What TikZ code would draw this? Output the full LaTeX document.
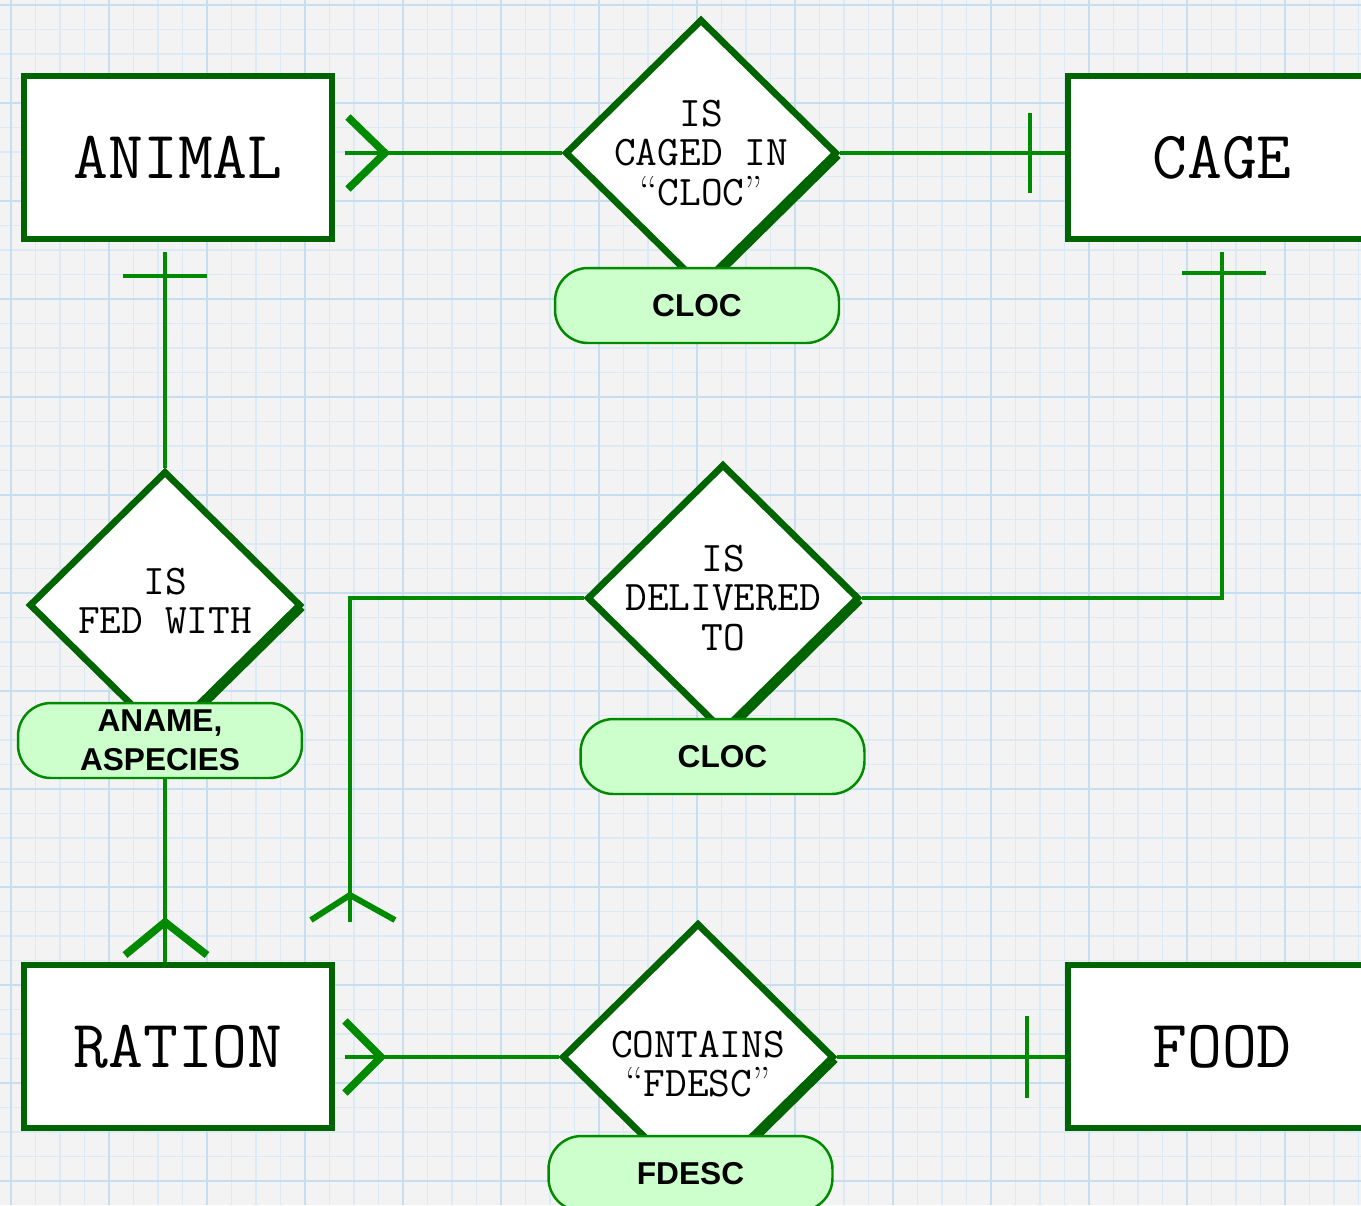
\documentclass[tikz,border=0pt]{standalone}
\usepackage{fontspec}
\setsansfont{Liberation Sans}
\usetikzlibrary{shapes.geometric,calc,shadows}

\definecolor{boxgreen}{HTML}{006400}
\definecolor{linegreen}{HTML}{008A00}
\definecolor{pillfill}{HTML}{CCFFCC}
\definecolor{paper}{HTML}{F3F3F3}
\definecolor{gridblue}{HTML}{DCEAF5}
\definecolor{gridmajor}{HTML}{C6DEF0}

\newcommand{\openq}{{\rmfamily “}}
\newcommand{\closeq}{{\rmfamily ”}}

\begin{document}
\begin{tikzpicture}[x=0.02cm, y=-0.02cm,
    entity/.style={rectangle, draw=boxgreen, line width=3.4pt, fill=white, minimum width=6.16cm, minimum height=3.26cm, font=\fontsize{38.5}{40}\selectfont\ttfamily},
    relation/.style={diamond, draw=boxgreen, line width=3.8pt, fill=white, minimum width=5.44cm, minimum height=5.36cm, inner sep=0pt, drop shadow={shadow xshift=0.1cm, shadow yshift=-0.1cm, fill=boxgreen, opacity=1}},
    reltext/.style={align=center, font=\fontsize{24}{22.7}\selectfont\ttfamily},
    attrib/.style={rectangle, rounded corners=0.66cm, draw=linegreen, line width=1.4pt, fill=pillfill, minimum width=5.68cm, minimum height=1.5cm, align=center, font=\fontsize{18}{22}\selectfont\sffamily\bfseries},
    link/.style={draw=linegreen, line width=2.3pt},
    crowfoot/.style={draw=linegreen, line width=4.3pt},
    onebar/.style={draw=linegreen, line width=2.5pt}
]

% Paper
\useasboundingbox (0,0) rectangle (1361,1205);
\clip (0,0) rectangle (1361,1205);
\fill[paper] (0,0) rectangle (1361,1205);
\foreach \gx in {11,35.5,...,1361} \draw[gridblue, line width=0.8pt] (\gx,0) -- (\gx,1205);
\foreach \gy in {5,29.5,...,1205} \draw[gridblue, line width=0.8pt] (0,\gy) -- (1361,\gy);
\foreach \gx in {11,109,...,1361} \draw[gridmajor, line width=1pt] (\gx,0) -- (\gx,1205);
\foreach \gy in {5,103,...,1205} \draw[gridmajor, line width=1pt] (0,\gy) -- (1361,\gy);

% Entities
\node[entity] (animal) at (178,157.5) {ANIMAL};
\node[entity] (cage) at (1222,157.5) {CAGE};
\node[entity] (ration) at (178,1046.5) {RATION};
\node[entity] (food) at (1222,1046.5) {FOOD};

% Relationships
\node[relation] (cagedin) at (701,153) {};
\node[reltext] at (cagedin) {IS\\CAGED IN\\\openq CLOC\closeq};

\node[relation] (fedwith) at (165,605) {};
\node[reltext] at ($(fedwith)+(0,-4)$) {IS\\FED WITH};

\node[relation] (delivered) at (723,598) {};
\node[reltext] at (delivered) {IS\\DELIVERED\\TO};

\node[relation] (contains) at (698,1057) {};
\node[reltext] at ($(contains)+(0,7)$) {CONTAINS\\\openq FDESC\closeq};

% Attributes
\node[attrib] (cagedinattr) at (697,305.5) {CLOC};
\node[attrib] (fedwithattr) at (160,740.5) {ANAME,\\ASPECIES};
\node[attrib] (deliveredattr) at (722.5,756.5) {CLOC};
\node[attrib] (containsattr) at (690.5,1173.5) {FDESC};

% ANIMAL - IS CAGED IN - CAGE
\draw[link, shorten <=0.2cm] (animal.east |- cagedin.west) -- (cagedin.west);
\draw[crowfoot] ($(animal.east |- cagedin.west)+(13,-36)$) -- ++(37,36) -- ++(-37,36);
\draw[link] (cagedin.east) -- (cagedin.east -| cage.west);
\draw[onebar] ($(cagedin.east -| cage.west)+(-35,-40)$) -- ++(0,80);

% ANIMAL - IS FED WITH - RATION
\draw[link, shorten <=0.2cm] (animal.south -| fedwith.north) -- (fedwith.north);
\draw[onebar] ($(animal.south -| fedwith.north)+(-42,34)$) -- ++(84,0);
\draw[link] (fedwithattr.south -| fedwith.south) -- (fedwith.south |- ration.north);
\draw[crowfoot] ($(fedwith.south |- ration.north)+(-40,-7)$) -- ++(40,-33) -- ++(42,33);

% CAGE - IS DELIVERED TO - RATION
\draw[link, shorten <=0.2cm] (cage.south) |- (delivered.east);
\draw[onebar] ($(cage.south)+(-40,31)$) -- ++(84,0);
\coordinate (deliverfoot) at ($(ration.north east)+(15,-40)$);
\draw[link] (delivered.west) -| (deliverfoot);
\draw[crowfoot, line width=3.4pt] ($(deliverfoot)+(-39,-2)$) -- ++(39,-25) -- ++(45,25);

% RATION - CONTAINS - FOOD
\draw[link, shorten <=0.2cm] (ration.east |- contains.west) -- (contains.west);
\draw[crowfoot] ($(ration.east |- contains.west)+(10,-36)$) -- ++(36,36) -- ++(-36,36);
\draw[link] (contains.east) -- (contains.east -| food.west);
\draw[onebar] ($(contains.east -| food.west)+(-38,-41)$) -- ++(0,82);

\end{tikzpicture}
\end{document}
